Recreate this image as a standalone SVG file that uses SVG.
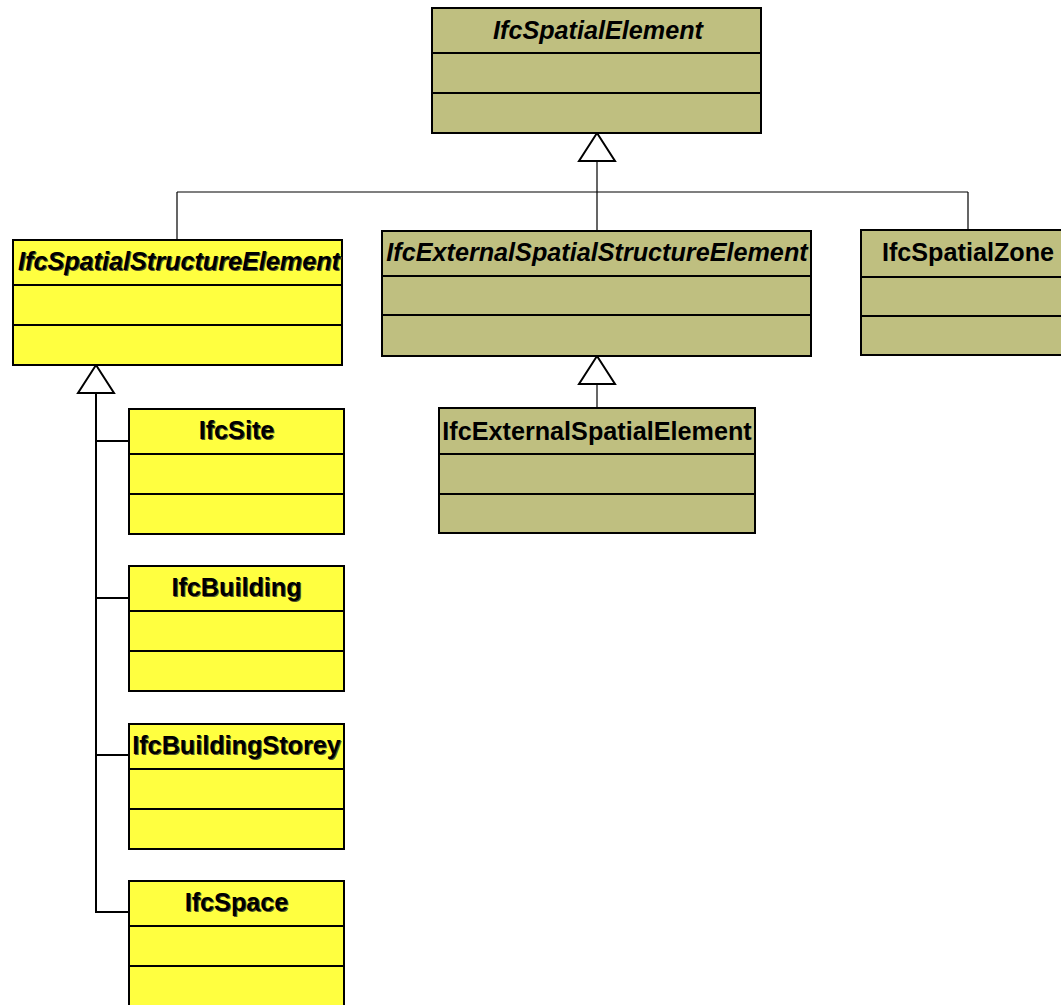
<svg xmlns="http://www.w3.org/2000/svg" width="1061" height="1005" viewBox="0 0 1061 1005">
  <style>
    .olive { fill: #BFBF80; stroke: #000; stroke-width: 2; }
    .yellow { fill: #FFFF40; stroke: #000; stroke-width: 2; }
    .sep { stroke: #000; stroke-width: 2; }
    .title { font-family: "Liberation Sans", Arial, sans-serif; font-size: 25.2px; font-weight: bold; text-anchor: middle; fill: #000; }
    .abstract { font-style: italic; }
    .shadow { fill: #55552a; }
    .thin { fill: none; stroke: #000; stroke-width: 1.2; }
    .thick { fill: none; stroke: #000; stroke-width: 2; }
    .tri { fill: #fff; stroke: #000; stroke-width: 2; stroke-linejoin: miter; }
  </style>

  <!-- generalization connectors -->
  <g id="connectors">
    <path class="thin" d="M597 161 V192 M177 192 H968 M177 192 V240 M597 192 V231 M968 192 V230"/>
    <polygon class="tri" points="597,133 615,161 579,161"/>
    <path class="thin" d="M597 384 V408"/>
    <polygon class="tri" points="597,356 615,384 579,384"/>
    <path class="thick" d="M96 393 V912 H129 M96 441 H129 M96 598 H129 M96 755 H129"/>
    <polygon class="tri" points="96,365 114,393 78,393"/>
  </g>

  <g id="IfcSpatialElement">
    <rect class="olive" x="432" y="8" width="329" height="125"/>
    <path class="sep" d="M432 53 H761 M432 93 H761"/>
    <text class="title abstract" x="598" y="39">IfcSpatialElement</text>
  </g>

  <g id="IfcSpatialStructureElement">
    <rect class="yellow" x="13" y="240" width="329" height="125"/>
    <path class="sep" d="M13 285 H342 M13 325 H342"/>
    <text class="title abstract shadow" x="180" y="271">IfcSpatialStructureElement</text>
    <text class="title abstract" x="179" y="270">IfcSpatialStructureElement</text>
  </g>

  <g id="IfcExternalSpatialStructureElement">
    <rect class="olive" x="382" y="231" width="429" height="125"/>
    <path class="sep" d="M382 276 H811 M382 315 H811"/>
    <text class="title abstract" x="597" y="261">IfcExternalSpatialStructureElement</text>
  </g>

  <g id="IfcSpatialZone">
    <rect class="olive" x="861" y="230" width="210" height="125"/>
    <path class="sep" d="M861 277 H1071 M861 316 H1071"/>
    <text class="title" x="968" y="261">IfcSpatialZone</text>
  </g>

  <g id="IfcExternalSpatialElement">
    <rect class="olive" x="439" y="408" width="316" height="125"/>
    <path class="sep" d="M439 454 H755 M439 494 H755"/>
    <text class="title" x="597" y="440">IfcExternalSpatialElement</text>
  </g>

  <g id="IfcSite">
    <rect class="yellow" x="129" y="409" width="215" height="125"/>
    <path class="sep" d="M129 454 H344 M129 494 H344"/>
    <text class="title shadow" x="237.5" y="440">IfcSite</text>
    <text class="title" x="236.5" y="439">IfcSite</text>
  </g>

  <g id="IfcBuilding">
    <rect class="yellow" x="129" y="566" width="215" height="125"/>
    <path class="sep" d="M129 611 H344 M129 651 H344"/>
    <text class="title shadow" x="237.5" y="597">IfcBuilding</text>
    <text class="title" x="236.5" y="596">IfcBuilding</text>
  </g>

  <g id="IfcBuildingStorey">
    <rect class="yellow" x="129" y="724" width="215" height="125"/>
    <path class="sep" d="M129 769 H344 M129 809 H344"/>
    <text class="title shadow" x="237.5" y="755">IfcBuildingStorey</text>
    <text class="title" x="236.5" y="754">IfcBuildingStorey</text>
  </g>

  <g id="IfcSpace">
    <rect class="yellow" x="129" y="881" width="215" height="125"/>
    <path class="sep" d="M129 926 H344 M129 966 H344"/>
    <text class="title shadow" x="237.5" y="912">IfcSpace</text>
    <text class="title" x="236.5" y="911">IfcSpace</text>
  </g>
</svg>
